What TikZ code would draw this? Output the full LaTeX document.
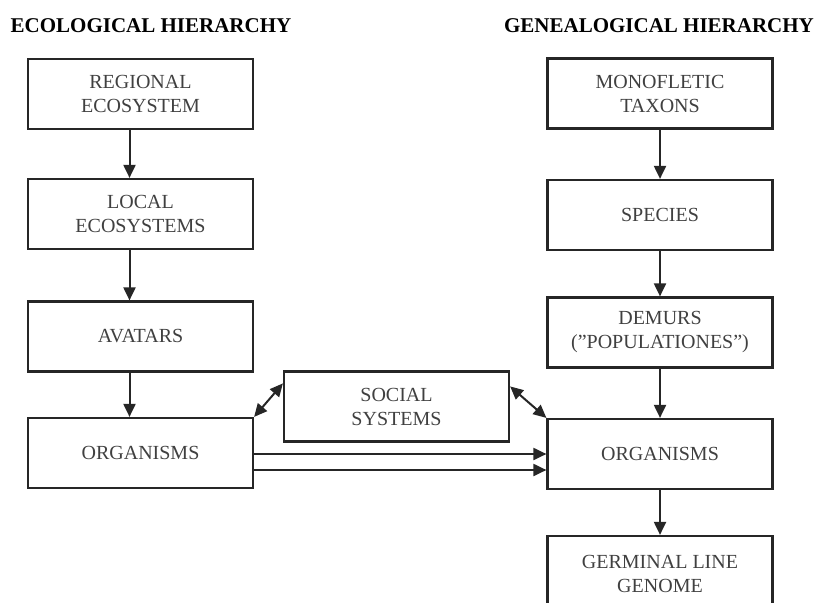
\documentclass[tikz,border=0pt]{standalone}
\usepackage{fontspec}
\setmainfont{Liberation Serif}
\usetikzlibrary{arrows.meta}

\tikzset{
  box/.style={draw=black!85, line width=2.2pt, minimum width=225pt, minimum height=70pt,
    align=center, inner sep=0pt, text=black!75, font=\fontsize{20}{24}\selectfont},
  head/.style={inner sep=0pt, font=\bfseries\fontsize{21}{24}\selectfont},
  arr/.style={-{Triangle[length=13pt,width=12pt]}, line width=2pt, draw=black!85},
  dblarr/.style={{Triangle[length=13pt,width=12pt]}-{Triangle[length=13pt,width=12pt]}, line width=2pt, draw=black!85}
}

\begin{document}
\begin{tikzpicture}[x=1pt,y=-1pt]
\useasboundingbox (0,0) rectangle (818,602);
\clip (0,0) rectangle (818,602);

\node[head] (ecohead) at (151,26) {ECOLOGICAL HIERARCHY};
\node[head] (genhead) at (659,26) {GENEALOGICAL HIERARCHY};

% ecological column
\node[box] (regional) at (140.5,94) {REGIONAL\\ECOSYSTEM};
\node[box] (local) at (140.5,214) {LOCAL\\ECOSYSTEMS};
\node[box] (avatars) at (140.5,336.5) {AVATARS};
\node[box] (orgL) at (140.5,453) {ORGANISMS};

% genealogical column
\node[box] (monotax) at (660,93.5) {MONOFLETIC\\TAXONS};
\node[box] (species) at (660,215) {SPECIES};
\node[box] (demurs) at (660,332.5) {DEMURS\\(''POPULATIONES'')};
\node[box] (orgR) at (660,454) {ORGANISMS};
\node[box, minimum height=76pt] (germinal) at (660,574) {GERMINAL LINE\\GENOME};

\node[box] (social) at (396.5,406.5) {SOCIAL\\SYSTEMS};

\draw[arr] ([xshift=-11pt]regional.south) -- ([xshift=-11pt]local.north);
\draw[arr] ([xshift=-11pt]local.south) -- ([xshift=-11pt]avatars.north);
\draw[arr] ([xshift=-11pt]avatars.south) -- ([xshift=-11pt]orgL.north);

\draw[arr] (monotax) -- (species);
\draw[arr] (species) -- (demurs);
\draw[arr] (demurs) -- (orgR);
\draw[arr] (orgR) -- (germinal);

\draw[dblarr] (orgL.north east) -- ([yshift=-13pt]social.north west);
\draw[dblarr] ([yshift=-16pt]social.north east) -- (orgR.north west);

\draw[arr] ([yshift=-1pt]orgL.east) -- ([yshift=-1pt]orgL.east -| orgR.west);
\draw[arr] ([yshift=-17pt]orgL.east) -- ([yshift=-17pt]orgL.east -| orgR.west);
\end{tikzpicture}
\end{document}
